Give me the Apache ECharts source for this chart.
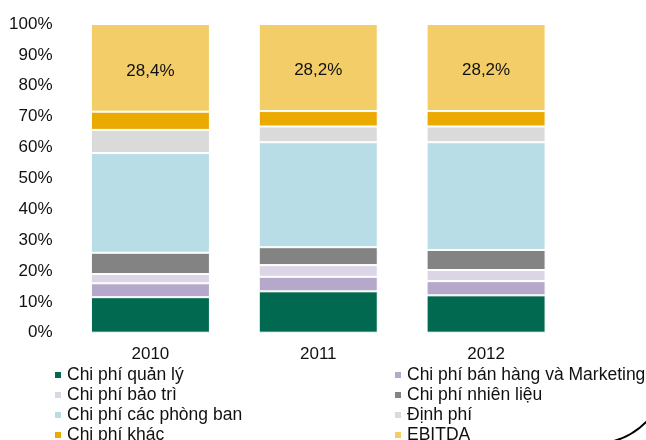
<!DOCTYPE html>
<html>
<head>
<meta charset="utf-8">
<script src="https://cdn.jsdelivr.net/npm/echarts@6/dist/echarts.min.js"></script>
<style>
  html, body { margin: 0; padding: 0; background: #fff; }
  #chart { width: 646px; height: 440px; }
</style>
</head>
<body>
<div id="chart"></div>
<script>
// Cost structure as share of revenue (%), stacked to 100%
const years = ['2010', '2011', '2012'];

const quanLy      = [11.5, 13.4, 12.1];
const banHang     = [4.5, 4.7, 4.6];
const baoTri      = [3.0, 3.8, 3.6];
const nhienLieu   = [6.9, 5.8, 6.5];
const phongBan    = [32.3, 34.0, 34.9];
const dinhPhi     = [7.5, 5.1, 5.1];
const khac        = [5.9, 5.0, 5.0];
const ebitda      = [28.4, 28.2, 28.2];

const yTicks = [0, 10, 20, 30, 40, 50, 60, 70, 80, 90, 100];

const seriesDefs = [
  { name: 'Chi phí quản lý', data: quanLy, color: '#006950' },
  { name: 'Chi phí bán hàng và Marketing', data: banHang, color: '#B5A8CA' },
  { name: 'Chi phí bảo trì', data: baoTri, color: '#DCD5E6' },
  { name: 'Chi phí nhiên liệu', data: nhienLieu, color: '#838383' },
  { name: 'Chi phí các phòng ban', data: phongBan, color: '#B8DDE6' },
  { name: 'Định phí', data: dinhPhi, color: '#DADADA' },
  { name: 'Chi phí khác', data: khac, color: '#EBAA00' },
  { name: 'EBITDA', data: ebitda, color: '#F2CD68' }
];

const FONT = "'Liberation Sans', Arial, sans-serif";
const TXT = '#111';

const series = seriesDefs.map(function (s) {
  const item = {
    name: s.name,
    type: 'bar',
    stack: 'total',
    barWidth: 119,
    data: s.data,
    itemStyle: { color: s.color, borderColor: '#fff', borderWidth: 1 },
    emphasis: { disabled: true }
  };
  if (s.name === 'EBITDA') {
    item.label = {
      show: true,
      position: 'inside',
      offset: [0, 3],
      color: TXT,
      fontSize: 17,
      fontFamily: FONT,
      formatter: function (p) { return p.value.toFixed(1).replace('.', ',') + '%'; }
    };
  }
  return item;
});

const legendBase = {
  orient: 'vertical',
  icon: 'rect',
  itemWidth: 8,
  itemHeight: 8,
  itemGap: 2,
  padding: 0,
  height: 100,
  textStyle: { color: TXT, fontSize: 17.5, fontFamily: FONT, lineHeight: 17 },
  selectedMode: false
};

const chart = echarts.init(document.getElementById('chart'), null, { renderer: 'canvas' });
chart.setOption({
  animation: false,
  backgroundColor: '#fff',
  grid: { left: 66.5, right: 76, top: 24, bottom: 107.3, containLabel: false },
  legend: [
    Object.assign({}, legendBase, {
      left: 53, top: 366,
      data: [seriesDefs[0].name, seriesDefs[2].name, seriesDefs[4].name, seriesDefs[6].name]
    }),
    Object.assign({}, legendBase, {
      left: 393, top: 366,
      data: [seriesDefs[1].name, seriesDefs[3].name, seriesDefs[5].name, seriesDefs[7].name]
    })
  ],
  xAxis: {
    type: 'category',
    data: years,
    axisLine: { show: false },
    axisTick: { show: false },
    axisLabel: { color: TXT, fontSize: 17, fontFamily: FONT, margin: 13 }
  },
  yAxis: {
    type: 'value',
    min: yTicks[0],
    max: yTicks[yTicks.length - 1],
    interval: 10,
    splitLine: { show: false },
    axisLine: { show: false },
    axisTick: { show: false },
    axisLabel: { color: TXT, fontSize: 17, fontFamily: FONT, margin: 14, formatter: '{value}%' }
  },
  series: series,
  graphic: [{
    type: 'bezierCurve',
    silent: true,
    shape: { x1: 610, y1: 442, cpx1: 632, cpy1: 437, x2: 648, y2: 420 },
    style: { stroke: '#000', lineWidth: 2, fill: null }
  }]
});
</script>
</body>
</html>
